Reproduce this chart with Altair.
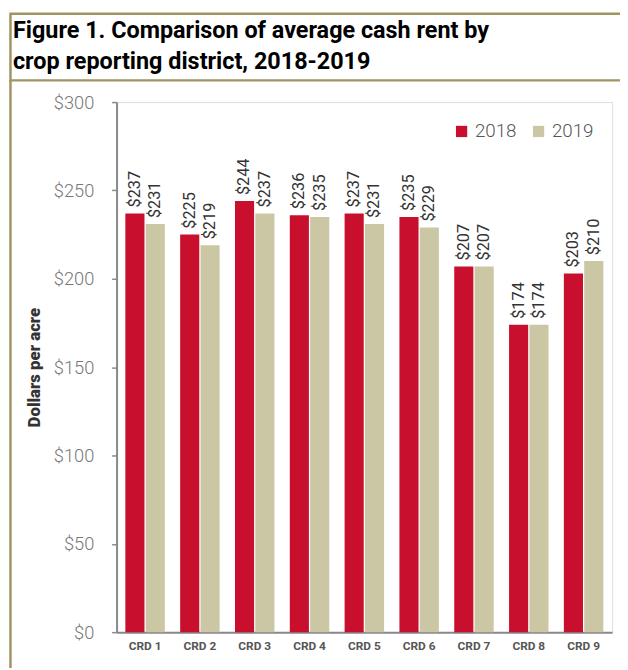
import altair as alt
import pandas as pd

districts = ["CRD 1", "CRD 2", "CRD 3", "CRD 4", "CRD 5", "CRD 6", "CRD 7", "CRD 8", "CRD 9"]
years = ["2018", "2019"]
rent_2018 = [237, 225, 244, 236, 237, 235, 207, 174, 203]
rent_2019 = [231, 219, 237, 235, 231, 229, 207, 174, 210]
y_ticks = [0, 50, 100, 150, 200, 250, 300]
title_line1 = "Figure 1. Comparison of average cash rent by"
title_line2 = "crop reporting district, 2018-2019"
y_title = "Dollars per acre"

rows = []
for d, a, b in zip(districts, rent_2018, rent_2019):
    rows.append({"district": d, "year": years[0], "rent": a, "label": f"${a}"})
    rows.append({"district": d, "year": years[1], "rent": b, "label": f"${b}"})
df = pd.DataFrame(rows)

W, H = 502, 537
PL, PT, PR, PB = 110, 91, 8, 32
RED = "#C8102E"
BEIGE = "#CBC7A5"
OLIVE = "#A09462"
FONT = "Roboto, sans-serif"

x_enc = alt.X(
    "district:N",
    sort=districts,
    scale=alt.Scale(paddingInner=0.28, paddingOuter=0.16),
    axis=alt.Axis(
        title=None, labelAngle=0, labelFont=FONT, labelFontWeight="bold",
        labelFontSize=12, labelColor="#555555", labelPadding=9, ticks=False,
        domainColor="#888888", domainWidth=2,
    ),
)
y_enc = alt.Y(
    "rent:Q",
    scale=alt.Scale(domain=[0, 300], nice=False, zero=True),
    axis=alt.Axis(
        values=y_ticks, labelExpr="'$' + datum.value", grid=False,
        labelFont=FONT, labelFontSize=18.5, labelFontWeight=300, labelColor="#777777",
        labelPadding=18, tickSize=5, tickColor="#888888", tickWidth=1.5,
        domainColor="#888888", domainWidth=2,
        title=y_title, titleFont=FONT,
        titleFontSize=17, titleFontWeight=900, titleColor="#333333",
        titleAngle=270, titleX=-83, titleY=H / 2, titleAlign="center",
        titleBaseline="middle",
    ),
)
xoff = alt.XOffset("year:N", sort=years, scale=alt.Scale(paddingInner=0.06))
color = alt.Color(
    "year:N", sort=years,
    scale=alt.Scale(domain=years, range=[RED, BEIGE]),
    legend=alt.Legend(
        title=None, orient="none", legendX=340, legendY=20, direction="horizontal",
        symbolType="square", symbolSize=130, symbolStrokeWidth=0,
        labelFont=FONT, labelFontSize=19, labelFontWeight=300, labelColor="#555555",
        labelOffset=4, columnPadding=12,
    ),
)

base = alt.Chart(df)
bars = base.mark_bar().encode(x=x_enc, y=y_enc, xOffset=xoff, color=color)
labels = base.mark_text(
    angle=270, align="left", baseline="middle", dx=6,
    font=FONT, fontSize=16.5, color="#333333",
).encode(x=x_enc, y=y_enc, xOffset=xoff, text="label:N")

one = pd.DataFrame({"k": [0]})
title_box = alt.Chart(one).mark_rect(
    fillOpacity=0, stroke=OLIVE, strokeWidth=2.5
).encode(
    x=alt.value(-107.5), x2=alt.value(W + PR + 20),
    y=alt.value(-PT + 1.5), y2=alt.value(-22),
)
left_border = alt.Chart(one).mark_rule(color=OLIVE, strokeWidth=2.5).encode(
    x=alt.value(-107.5), y=alt.value(-22), y2=alt.value(H + PB + 5),
)
t1 = alt.Chart(one).mark_text(
    align="left", baseline="alphabetic", font=FONT, fontSize=23.7,
    fontWeight="bold", color="#000000",
).encode(x=alt.value(-105), y=alt.value(-65), text=alt.value(title_line1))
t2 = alt.Chart(one).mark_text(
    align="left", baseline="alphabetic", font=FONT, fontSize=23.7,
    fontWeight="bold", color="#000000",
).encode(x=alt.value(-105), y=alt.value(-34), text=alt.value(title_line2))

chart = alt.layer(bars, labels, title_box, left_border, t1, t2).properties(
    width=W, height=H,
    autosize=alt.AutoSizeParams(type="none"),
    padding={"left": PL, "top": PT, "right": PR, "bottom": PB},
).configure_view(stroke=None).configure(background="white")

chart.save("out.html", embed_options={"renderer": "svg", "actions": False})
